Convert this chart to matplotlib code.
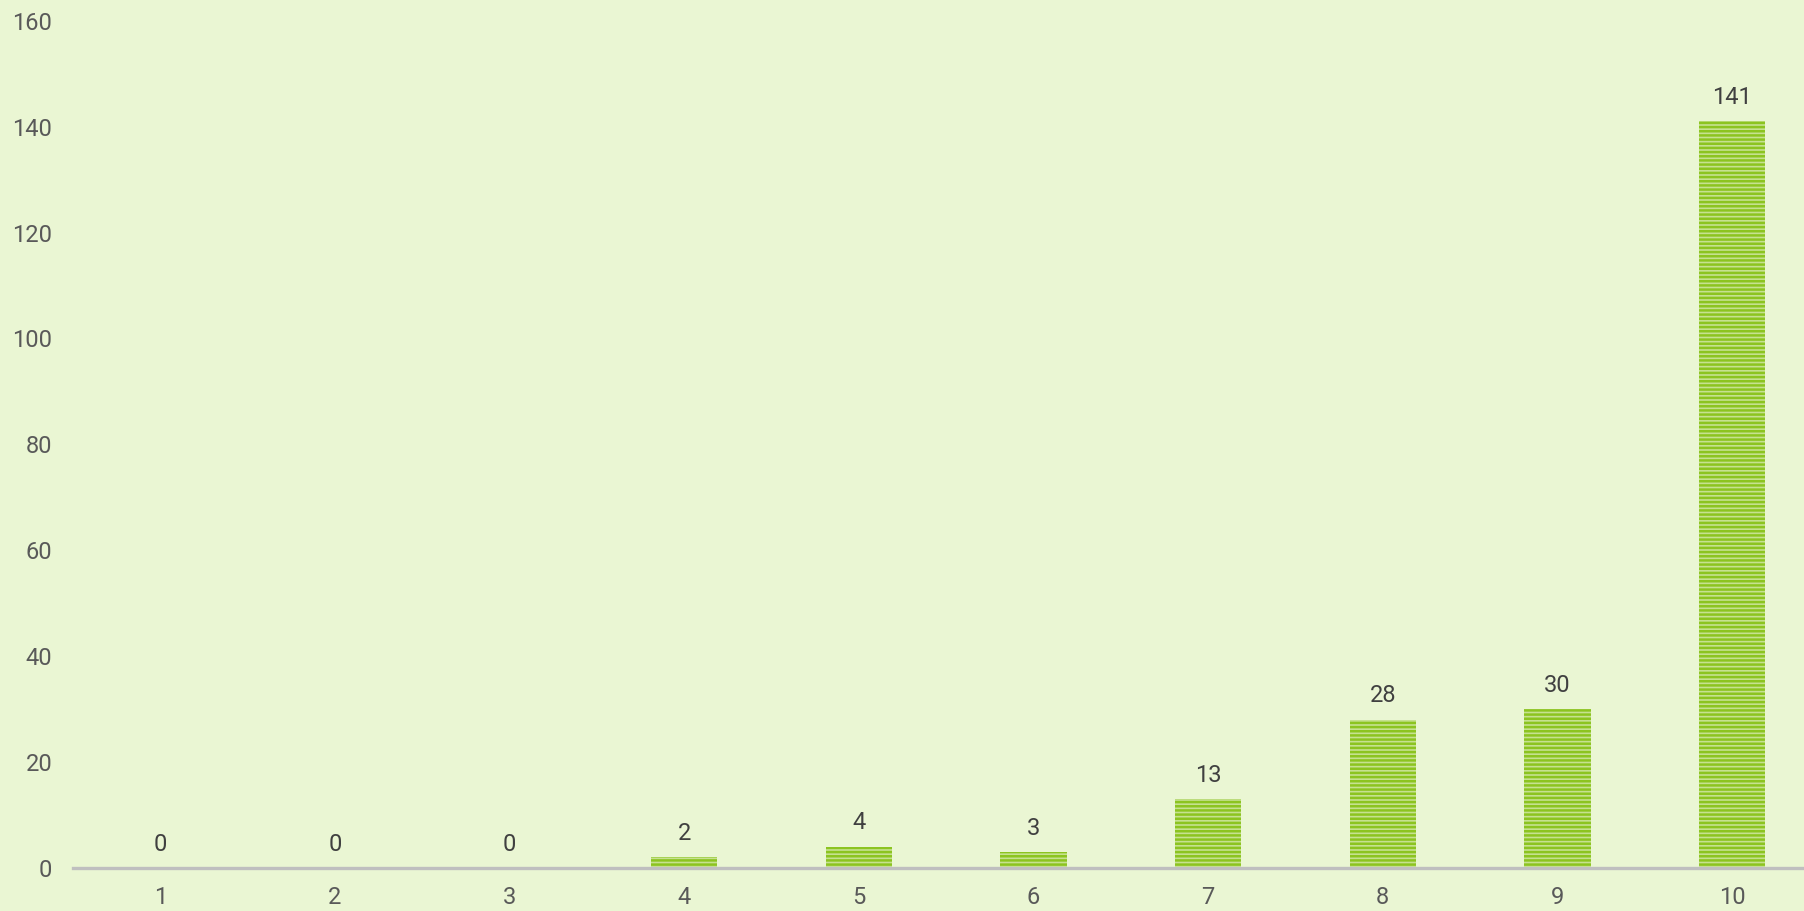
import matplotlib.pyplot as plt

# data
categories = ['1', '2', '3', '4', '5', '6', '7', '8', '9', '10']
counts = [0, 0, 0, 2, 4, 3, 13, 28, 30, 141]
y_ticks = [0, 20, 40, 60, 80, 100, 120, 140, 160]

bg = '#eaf6d3'
plt.rcParams['hatch.linewidth'] = 1.8
plt.rcParams['font.family'] = ['Roboto', 'DejaVu Sans']

fig = plt.figure(figsize=(18.04, 9.11), dpi=100, facecolor=bg)
# category axis runs a little past the right edge, as in the reference
ax = fig.add_axes([0.0405, 0.0472, 0.968, 0.930])
ax.set_facecolor(bg)

x = list(range(1, len(categories) + 1))
bars = ax.bar(x, counts, width=0.38, color='#c6e190', edgecolor='#8cc420',
              hatch='----', linewidth=0)

for xi, v in zip(x, counts):
    ax.annotate(str(v), (xi, v), xytext=(0, 9), textcoords='offset points',
                ha='center', va='bottom', fontsize=17, color='#404040')

ax.set_xlim(0.5, 10.5)
ax.set_ylim(0, 160)
ax.set_xticks(x)
ax.set_xticklabels(categories)
ax.set_yticks(y_ticks)
ax.tick_params(axis='both', length=0, labelsize=17, labelcolor='#595959')
ax.tick_params(axis='x', pad=13)
ax.tick_params(axis='y', pad=15)

for s in ['top', 'right', 'left']:
    ax.spines[s].set_visible(False)
ax.spines['bottom'].set_color('#bfbfbf')
ax.spines['bottom'].set_linewidth(2.4)

fig.savefig('out.png', dpi=100, facecolor=bg)
